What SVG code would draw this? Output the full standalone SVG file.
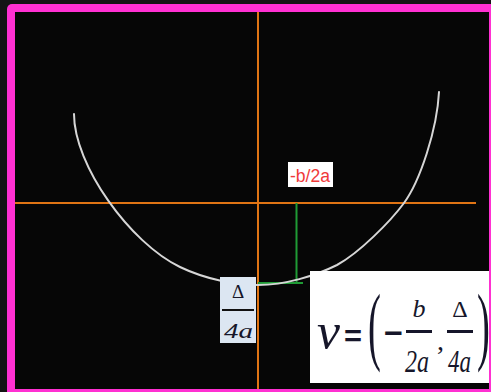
<svg xmlns="http://www.w3.org/2000/svg" width="491" height="392" viewBox="0 0 491 392">
<style>
.axis{stroke:#e07414;stroke-width:2;fill:none}
.helper{stroke:#1f9a35;stroke-width:2;fill:none}
.curve{stroke:#d6d6d6;stroke-width:2;fill:none;stroke-linejoin:round;stroke-linecap:round}
.math{font-family:"Liberation Serif","DejaVu Serif",serif;fill:#16162a}
.op{font-family:"Liberation Sans","DejaVu Sans",sans-serif;font-weight:bold;fill:#16162a}
.it{font-style:italic}
</style>
<rect x="0" y="0" width="491" height="392" fill="#141414"/>
<rect x="7" y="4" width="494" height="398" rx="5" fill="#ff30d2"/>
<rect x="15" y="12" width="474" height="377" fill="#060606"/>
<g id="connectors">
<line class="axis" x1="258" y1="12" x2="258" y2="389"/>
<line class="axis" x1="15" y1="203" x2="476" y2="203"/>
<polyline class="helper" points="296.5,203 296.5,283 258,283 303,283"/>
<path id="parabola" class="curve" d="M74,114 C74,165 130,243 180,267 C205,279 235,285 258,285 C285,285 315,276 337,265 C359,253 390,222 404,203 C420,181 437,130 439,92"/>
</g>
<g id="label-xv">
<rect x="288" y="162" width="45" height="25" fill="#ffffff"/>
<text x="290" y="182" font-family="Liberation Sans, Arial, sans-serif" font-size="18" fill="#f03a3a" textLength="40" lengthAdjust="spacingAndGlyphs">-b/2a</text>
</g>
<g id="label-yv">
<rect x="220" y="277" width="36" height="66" fill="#dce6f2"/>
<text class="math" x="238" y="298" font-size="19" text-anchor="middle">Δ</text>
<rect x="222" y="309" width="32" height="2" fill="#111"/>
<text class="math it" x="224" y="338" font-size="22" textLength="29" lengthAdjust="spacingAndGlyphs">4a</text>
</g>
<g id="formula">
<rect x="310" y="271" width="179" height="112" fill="#ffffff"/>
<text class="math it" x="317" y="348" font-size="50" textLength="23" lengthAdjust="spacingAndGlyphs">v</text>
<text class="op" x="344" y="346" font-size="30" textLength="18" lengthAdjust="spacingAndGlyphs">=</text>
<text class="math" transform="translate(368,354) scale(0.45,1)" font-size="86">(</text>
<text class="op" x="384" y="343" font-size="30" textLength="19" lengthAdjust="spacingAndGlyphs">−</text>
<text class="math it" x="419" y="317" font-size="26" text-anchor="middle">b</text>
<rect x="406" y="330" width="26" height="3" fill="#16162a"/>
<text class="math it" x="405" y="372" font-size="32" textLength="24" lengthAdjust="spacingAndGlyphs">2a</text>
<text class="math" x="437" y="350" font-size="28">,</text>
<text class="math" x="460" y="317" font-size="24" text-anchor="middle">Δ</text>
<rect x="447" y="330" width="26" height="3" fill="#16162a"/>
<text class="math it" x="448" y="372" font-size="32" textLength="23" lengthAdjust="spacingAndGlyphs">4a</text>
<text class="math" transform="translate(477,354) scale(0.45,1)" font-size="86">)</text>
</g>
</svg>
